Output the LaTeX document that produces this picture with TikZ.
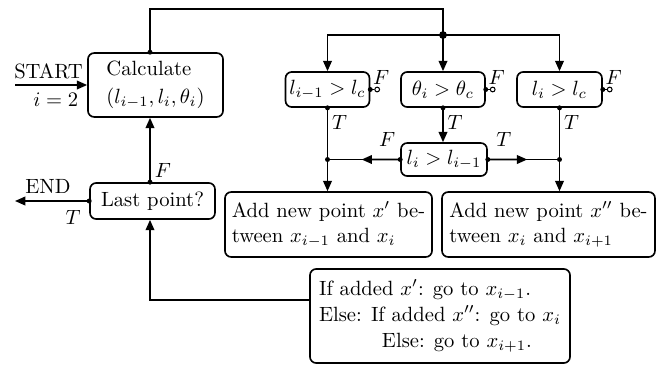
\documentclass[tikz,border=0pt]{standalone}
\usetikzlibrary{arrows.meta,calc}
\begin{document}
\begin{tikzpicture}[x=0.485pt,y=-0.485pt, line width=0.8pt,
  box/.style={draw, rounded corners=3pt, inner sep=0pt, line width=0.8pt},
  arr/.style={-{Triangle[length=5pt,width=4.2pt]}},
  dot/.style={circle, fill, inner sep=0pt, minimum size=2.4pt},
  bigdot/.style={circle, fill, inner sep=0pt, minimum size=3.8pt},
  odot/.style={circle, draw, fill=white, inner sep=0pt, minimum size=2.3pt, line width=0.5pt},
  lbl/.style={inner sep=0pt}]
\useasboundingbox (0,0) rectangle (658,366);
\coordinate (colx) at (150,0);
% boxes
\node[box, minimum width=65.5pt, minimum height=31pt, align=left] (calc) at (155.5,85) {Calculate\\[1.4pt]$(l_{i-1},l_i,\theta_i)$};
\node[box, minimum width=60.6pt, minimum height=17.5pt] (last) at (152.5,201) {Last point?};
\node[box, minimum width=40.7pt, minimum height=17pt] (c1) at (327.5,89.5) {$l_{i-1}>l_c$};
\node[box, minimum width=40.7pt, minimum height=17pt] (c2) at (443,89.5) {$\theta_i>\theta_c$};
\node[box, minimum width=41.2pt, minimum height=17pt] (c3) at (559.5,89.5) {$l_i>l_c$};
\node[box, minimum width=41.7pt, minimum height=16pt] (c4) at (444,159.5) {$l_i>l_{i-1}$};
\node[box, minimum width=100.4pt, minimum height=31.5pt, align=left] (add1) at (328.5,224.5) {Add new point $x'$ be-\\tween $x_{i-1}$ and $x_i$};
\node[box, minimum width=103.3pt, minimum height=31.5pt, align=left] (add2) at (548.5,224.5) {Add new point $x''$ be-\\tween $x_i$ and $x_{i+1}$};
\node[box, minimum width=126.1pt, minimum height=45.6pt, align=left] (ifb) at (440,316) {If added $x'$: go to $x_{i-1}$.\\[0.6pt]Else: If added $x''$: go to $x_i$\\[0.6pt]\hspace*{30.5pt}Else: go to $x_{i+1}$.};
% coordinates
\coordinate (top) at (c2.north |- 0,35);
\coordinate (j1) at (c1.south |- c4.west);
\coordinate (j2) at (c3.south |- c4.east);
\coordinate (startpt) at (15,85);
\coordinate (endpt) at (15,201);
% START
\draw[arr] (startpt) -- (calc.west);
\node[lbl] (startlbl) at (48.5,71) {START};
\node[lbl, anchor=east] (ilbl) at (79,100) {$i=2$};
% loop to conditions
\draw (calc.north -| colx) |- ($(top)+(0,-26)$) -- (top);
\draw[arr] (top) -| (c1.north);
\draw[arr] (top) -- (c2.north);
\draw[arr] (top) -| (c3.north);
% F outputs
\foreach \n in {c1,c2,c3}{
  \draw (\n.east) -- ++(4,0) node[odot,anchor=west]{};
  \node[dot] at (\n.east) {};
  \node[lbl] at ($(\n.east)+(11,-12)$) {$F$};
  \node[dot] at (\n.south) {};
  \node[lbl] at ($(\n.south)+(12,15)$) {$T$};
}
% T outputs
\draw[arr] (c1.south) -- (c1.south |- add1.north);
\draw[arr] (c2.south) -- (c2.south |- c4.north);
\draw[arr] (c3.south) -- (c3.south |- add2.north);
% c4 branches
\draw (c4.west) -- (j1);
\draw[arr] (c4.west) -- ($(c4.west)!0.53!(j1)$);
\draw (c4.east) -- (j2);
\draw[arr] (c4.east) -- ($(c4.east)!0.55!(j2)$);
\node[dot] at (c4.west) {};
\node[dot] at (c4.east) {};
\node[dot] at (j1) {};
\node[dot] at (j2) {};
\node[lbl] at ($(c4.west)+(-13,-20)$) {$F$};
\node[lbl] at ($(c4.east)+(16,-20)$) {$T$};
% last point
\draw[arr] (last.north -| colx) -- (calc.south -| colx);
\node[dot] at (last.north -| colx) {};
\node[dot] at (calc.north -| colx) {};
\node[lbl] at ($(last.north -| colx)+(13,-12)$) {$F$};
\draw[arr] (last.west) -- (endpt);
\node[dot] at (last.west) {};
\node[lbl] (endlbl) at (48,186) {END};
\node[lbl] at (73,217) {$T$};
% return from if box
\draw[arr] ($(ifb.west)+(0,-16)$) -| (last.south -| colx);
\node[bigdot] at (top) {};
\end{tikzpicture}
\end{document}
